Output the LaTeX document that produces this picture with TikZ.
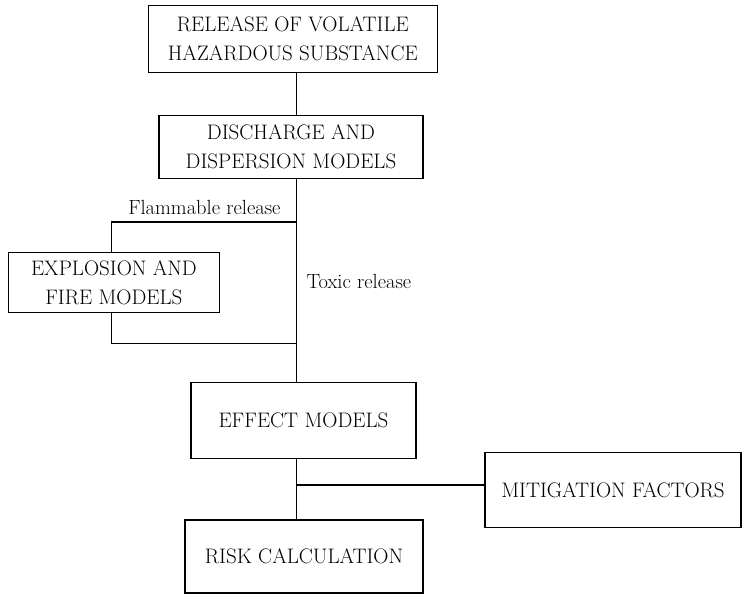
\documentclass[tikz,border=0pt]{standalone}
\usepackage{fontspec}
\newcommand\boxfont{\fontsize{21}{29}\selectfont}
\newcommand\lblfont{\fontsize{20.5}{25}\selectfont}
\begin{document}
\begin{tikzpicture}[x=1pt,y=-1pt,line width=1.1pt,
  box/.style={draw, rectangle, inner sep=0pt, align=center, font=\boxfont},
  lbl/.style={inner sep=0pt, font=\lblfont}]
\useasboundingbox (0,0) rectangle (744,595);
% boxes
\node[box, minimum width=289.5pt, minimum height=67.6pt] (rel) at (292.8,39.1) {RELEASE OF VOLATILE\\HAZARDOUS SUBSTANCE};
\node[box, minimum width=264pt, minimum height=62.7pt] (dis) at (291,147) {DISCHARGE AND\\DISPERSION MODELS};
\node[box, minimum width=211.7pt, minimum height=60pt] (exp) at (113.9,282.4) {EXPLOSION AND\\FIRE MODELS};
\node[box, minimum width=225pt, minimum height=75.5pt] (eff) at (303.5,420.3) {EFFECT MODELS};
\node[box, minimum width=256pt, minimum height=75pt] (mit) at (613,490) {MITIGATION FACTORS};
\node[box, minimum width=238pt, minimum height=73pt] (risk) at (304,556.5) {RISK CALCULATION};
% spine coordinates
\coordinate (sx) at (296.6,0);
\coordinate (fl) at (296.6,222);
\coordinate (fll) at (111.5,222);
\coordinate (fb) at (111.5,343.8);
\coordinate (fbr) at (296.6,343.8);
\coordinate (mj) at (296.6,485);
% connectors
\draw (rel.south -| sx) -- (dis.north -| sx);
\draw (dis.south -| sx) -- (eff.north -| sx);
\draw (fl) -- (fll) -- (exp.north -| fll);
\draw (exp.south -| fb) -- (fb) -- (fbr);
\draw (eff.south -| sx) -- (risk.north -| sx);
\draw (mj) -- (mit.west |- mj);
% labels
\node[lbl, anchor=base east] (flt) at (281,214) {Flammable release};
\node[lbl, anchor=base west] (tox) at (306,288) {Toxic release};
\end{tikzpicture}
\end{document}
